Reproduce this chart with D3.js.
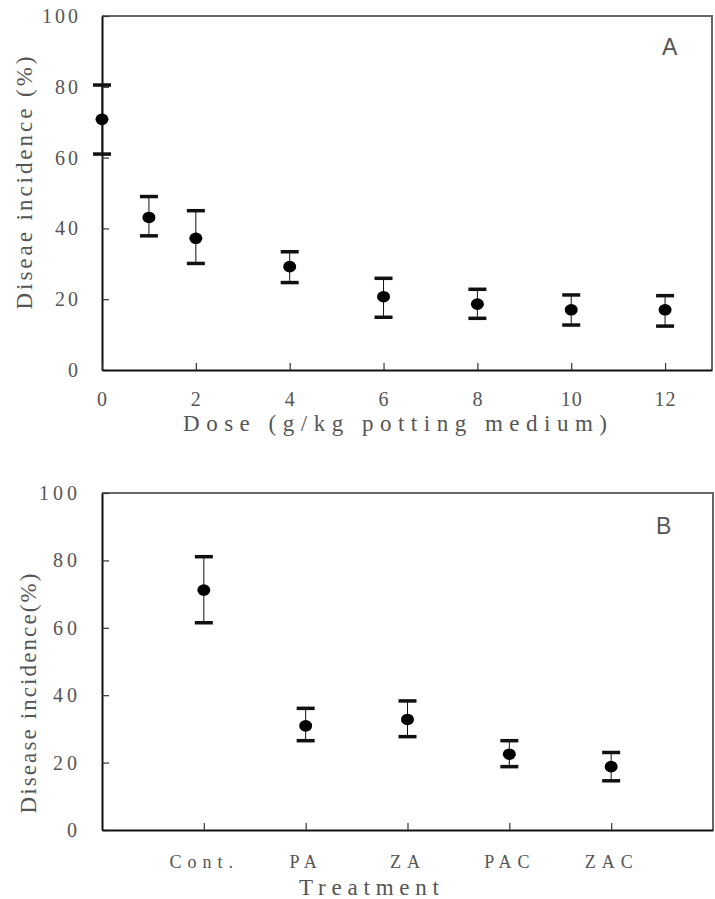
<!DOCTYPE html>
<html>
<head>
<meta charset="utf-8">
<script src="https://cdn.jsdelivr.net/npm/d3@7"></script>
<style>
body { margin: 0; background: #fff; }
text { font-family: "Liberation Serif", "DejaVu Serif", serif; fill: #555; }
</style>
</head>
<body>
<div id="chart"></div>
<script>
// panel A: dose response
var doses = [0, 1, 2, 4, 6, 8, 10, 12]
var doseMean = [70.8, 43.1, 37.2, 29.2, 20.7, 18.6, 17.0, 17.0]
var doseUpper = [80.5, 49.0, 45.0, 33.4, 25.9, 22.8, 21.2, 21.0]
var doseLower = [61.0, 37.9, 30.1, 24.7, 14.9, 14.6, 12.7, 12.4]
var doseTicks = [0, 2, 4, 6, 8, 10, 12]

// panel B: treatments
var treatments = ["Cont.", "PA", "ZA", "PAC", "ZAC"]
var treatMean = [71.2, 30.9, 32.8, 22.5, 18.8]
var treatUpper = [81.1, 36.1, 38.3, 26.5, 23.0]
var treatLower = [61.5, 26.5, 27.7, 18.8, 14.6]

var yTicks = [0, 20, 40, 60, 80, 100]

var w = 715
var h = 899
var svg = d3.select("#chart").append("svg").attr("width", w).attr("height", h)

function panel(opt) {
    var g = svg.append("g")
    var x = opt.x
    var y = d3.scaleLinear().domain([0, 100]).range([opt.bottom, opt.top])
    var x0 = opt.left, x1 = opt.right

    // frame top/right
    g.append("path")
        .attr("d", "M" + x0 + "," + opt.top + "H" + x1 + "V" + opt.bottom)
        .attr("fill", "none").attr("stroke", "#666").attr("stroke-width", 2)

    var ya = g.append("g").attr("transform", "translate(" + x0 + ",0)")
        .call(d3.axisLeft(y).tickValues(yTicks).tickSizeInner(-7).tickSizeOuter(0).tickPadding(21))
    ya.select(".domain").attr("stroke", "#111").attr("stroke-width", 2)
    ya.selectAll(".tick line").attr("stroke", "#333").attr("stroke-width", 1.2)
    ya.selectAll("text").style("font-size", "20px").style("letter-spacing", opt.yls + "px").attr("fill", "#555")

    var xa = g.append("g").attr("transform", "translate(0," + opt.bottom + ")")
        .call(opt.xAxis.tickSizeInner(-7).tickSizeOuter(0).tickPadding(opt.xpad))
    xa.select(".domain").attr("stroke", "#111").attr("stroke-width", 2)
    xa.selectAll(".tick line").attr("stroke", "#333").attr("stroke-width", 1.2)
    xa.selectAll("text").style("font-size", opt.xfs + "px").style("letter-spacing", opt.xls + "px").attr("fill", "#555")

    var pts = opt.keys.map(function(k, i) {
        return { k: k, m: opt.mean[i], u: opt.upper[i], l: opt.lower[i] }
    })

    g.selectAll(".stem").data(pts).enter().append("line")
        .attr("x1", function(d) { return x(d.k) })
        .attr("x2", function(d) { return x(d.k) })
        .attr("y1", function(d) { return y(d.u) })
        .attr("y2", function(d) { return y(d.l) })
        .attr("stroke", "#111").attr("stroke-width", 1)

    var caps = []
    pts.forEach(function(d) { caps.push({ k: d.k, v: d.u }); caps.push({ k: d.k, v: d.l }) })
    g.selectAll(".cap").data(caps).enter().append("line")
        .attr("x1", function(d) { return x(d.k) - 9 })
        .attr("x2", function(d) { return x(d.k) + 9 })
        .attr("y1", function(d) { return y(d.v) })
        .attr("y2", function(d) { return y(d.v) })
        .attr("stroke", "#111").attr("stroke-width", 3.5)

    g.selectAll(".dot").data(pts).enter().append("ellipse")
        .attr("cx", function(d) { return x(d.k) })
        .attr("cy", function(d) { return y(d.m) })
        .attr("rx", 6.5).attr("ry", 5.8)
        .attr("fill", "#000")

    g.append("text").text(opt.letter)
        .attr("x", opt.letterX).attr("y", opt.letterY)
        .style("font-family", "'Liberation Sans', Arial, sans-serif")
        .style("font-size", "23px").attr("fill", "#222")

    g.append("text").text(opt.ylabel)
        .attr("transform", "translate(" + opt.ylabX + "," + ((opt.top + opt.bottom) / 2 + opt.ylabShift) + ") rotate(-90)")
        .attr("text-anchor", "middle")
        .attr("textLength", opt.ylabLen).attr("lengthAdjust", "spacing")
        .style("font-size", "23px")

    g.append("text").text(opt.xlabel)
        .attr("x", opt.xlabX).attr("y", opt.xlabY)
        .attr("text-anchor", "middle")
        .attr("textLength", opt.xlabLen).attr("lengthAdjust", "spacing")
        .style("font-size", "23px")
}

var xA = d3.scaleLinear().domain([0, 13]).range([102, 712])
panel({
    x: xA, keys: doses, mean: doseMean, upper: doseUpper, lower: doseLower,
    left: 102, right: 712, top: 16, bottom: 370,
    xAxis: d3.axisBottom(xA).tickValues(doseTicks), xpad: 22, xfs: 20, xls: 1, yls: 3,
    letter: "A", letterX: 662, letterY: 55,
    ylabel: "Diseae incidence (%)", ylabX: 32, ylabShift: -10, ylabLen: 253,
    xlabel: "Dose (g/kg potting medium)", xlabX: 395, xlabY: 431, xlabLen: 424
})

var xB = d3.scalePoint().domain(treatments).range([102, 713]).padding(1)
panel({
    x: xB, keys: treatments, mean: treatMean, upper: treatUpper, lower: treatLower,
    left: 102, right: 713, top: 493, bottom: 830,
    xAxis: d3.axisBottom(xB), xpad: 25, xfs: 18, xls: 6, yls: 4,
    letter: "B", letterX: 656, letterY: 534,
    ylabel: "Disease incidence(%)", ylabX: 36, ylabShift: 32, ylabLen: 240,
    xlabel: "Treatment", xlabX: 369, xlabY: 895, xlabLen: 140
})
</script>
</body>
</html>
